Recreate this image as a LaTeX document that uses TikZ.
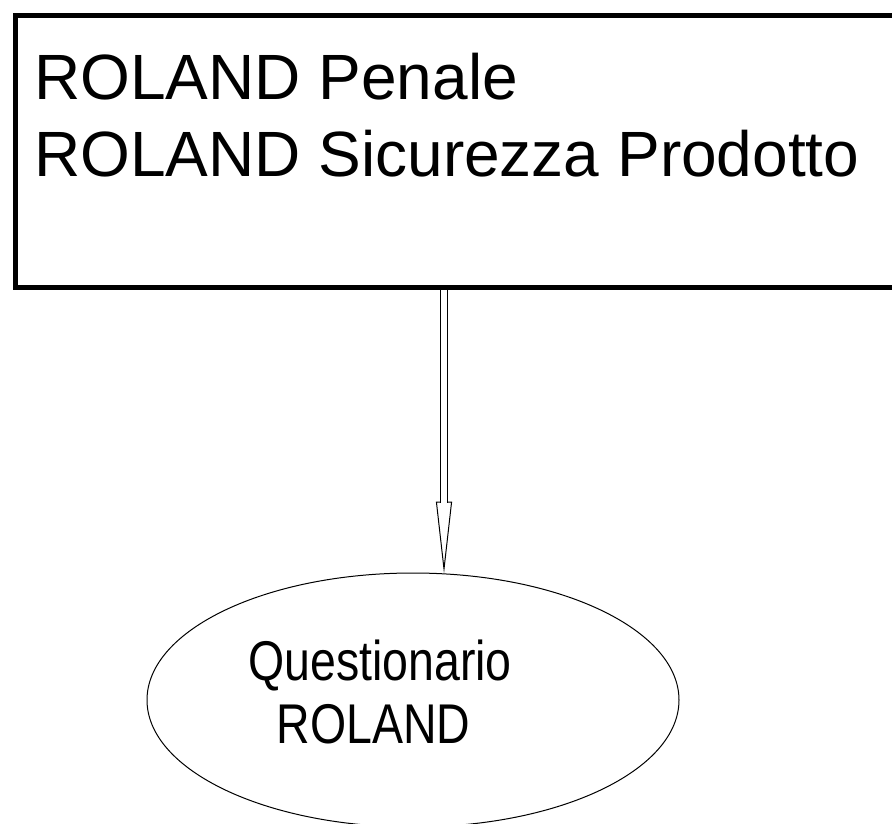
\documentclass[tikz,border=0pt]{standalone}
\usepackage{fontspec}
\setmainfont{Liberation Sans}
\newfontfamily\narrowsans[FakeStretch=0.83]{Liberation Sans}
\usetikzlibrary{shapes.geometric}
\usetikzlibrary{arrows.meta}

\tikzset{
  box/.style={draw, line width=5pt, rectangle, inner sep=0pt, anchor=north west},
  oval/.style={draw, line width=1pt, ellipse, inner sep=0pt},
  conn/.style={double, double distance=6.3pt, line width=1pt},
  head/.style={line width=1pt, fill=white, -{Triangle[open, fill=white, length=72pt, width=16pt]}},
}

\begin{document}
\begin{tikzpicture}[x=1pt, y=-1pt]
\useasboundingbox (0,0) rectangle (892,823);

\node[box, minimum width=892pt, minimum height=272pt] (roland) at (13,13) {};
\node[anchor=north west, inner sep=0pt, align=left,
      font=\fontsize{64}{77}\selectfont] (rolandtext) at (34,53)
  {ROLAND Penale\\ROLAND Sicurezza Prodotto};

% questionario
\node[oval, minimum width=532pt, minimum height=254pt] (quest) at (413,700) {};
\node[anchor=north, inner sep=0pt, align=center,
      font=\narrowsans\fontsize{56}{63}\selectfont] (questtext) at (380,640)
  {Questionario\\ROLAND\hspace*{13pt}};

\coordinate (tip) at ([xshift=31pt, yshift=-1pt]quest.north);
\coordinate (tipbase) at ([yshift=72pt]tip);
\coordinate (top) at (roland.south -| tip);

\draw[head] (tipbase) -- (tip);
\draw[conn] (top) -- ([yshift=-1pt]tipbase);

\end{tikzpicture}
\end{document}
